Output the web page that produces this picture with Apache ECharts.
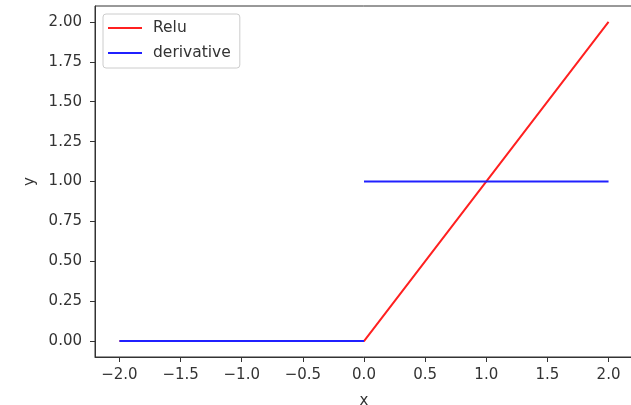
<!DOCTYPE html>
<html>
<head>
<meta charset="utf-8">
<script src="https://cdn.jsdelivr.net/npm/echarts@6/dist/echarts.min.js"></script>
<style>
  html, body { margin: 0; padding: 0; background: #fff; }
  #main { width: 631px; height: 405px; }
</style>
</head>
<body>
<div id="main"></div>
<script>
    // values
    var reluX = [-2, 0, 2];
    var reluY = [0, 0, 2];
    var derivX = [-2, 0, 0, 0, 2];
    var derivY = [0, 0, '-', 1, 1];
    var xTicks = [-2, -1.5, -1, -0.5, 0, 0.5, 1, 1.5, 2];
    var yTicks = [0, 0.25, 0.5, 0.75, 1, 1.25, 1.5, 1.75, 2];

    function pairs(xs, ys) {
        return xs.map(function (x, i) { return [x, ys[i]]; });
    }

    var chartDom = document.getElementById('main');
    var myChart = echarts.init(chartDom);
    var font = 'DejaVu Sans';
    var ink = '#333';
    var option = {
        animation: false,
        grid: {
            left: 95, right: -2, top: 6, bottom: 48,
            outerBoundsMode: 'none',
            show: true, borderColor: ink, borderWidth: 1
        },
        legend: {
            orient: 'vertical',
            left: 103, top: 14,
            padding: [6, 9, 7, 5],
            itemGap: 9,
            itemWidth: 34, itemHeight: 2,
            icon: 'rect',
            backgroundColor: '#fff',
            borderColor: '#ccc', borderWidth: 1, borderRadius: 3,
            textStyle: { fontFamily: font, fontSize: 15.5, color: ink, padding: [0, 0, 0, 6] },
            data: ['Relu', 'derivative']
        },
        xAxis: {
            type: 'value',
            min: -2.2, max: 2.2,
            name: 'x', nameLocation: 'middle', nameGap: 37,
            nameTextStyle: { fontFamily: font, fontSize: 15, color: ink },
            splitLine: { show: false },
            axisLine: { show: true, onZero: false, lineStyle: { color: ink } },
            axisTick: { show: true, length: 5, customValues: xTicks, lineStyle: { color: ink } },
            axisLabel: {
                customValues: xTicks, margin: 11,
                fontFamily: font, fontSize: 15, color: ink,
                formatter: function (v) { return v.toFixed(1).replace('-', '\u2212'); }
            }
        },
        yAxis: {
            type: 'value',
            min: -0.1, max: 2.1,
            name: 'y', nameLocation: 'middle', nameGap: 57,
            nameTextStyle: { fontFamily: font, fontSize: 15, color: ink },
            splitLine: { show: false },
            axisLine: { show: true, onZero: false, lineStyle: { color: ink } },
            axisTick: { show: true, length: 5, customValues: yTicks, lineStyle: { color: ink } },
            axisLabel: {
                customValues: yTicks, margin: 13,
                fontFamily: font, fontSize: 15, color: ink,
                formatter: function (v) { return v.toFixed(2); }
            }
        },
        series: [
            {
                name: 'Relu', type: 'line',
                data: pairs(reluX, reluY),
                showSymbol: false,
                color: '#ff2020',
                lineStyle: { width: 2, color: '#ff2020' }
            },
            {
                name: 'derivative', type: 'line',
                data: pairs(derivX, derivY),
                showSymbol: false,
                connectNulls: false,
                color: '#2020ff',
                lineStyle: { width: 2, color: '#2020ff' }
            }
        ]
    };
    option && myChart.setOption(option);
</script>
</body>
</html>
